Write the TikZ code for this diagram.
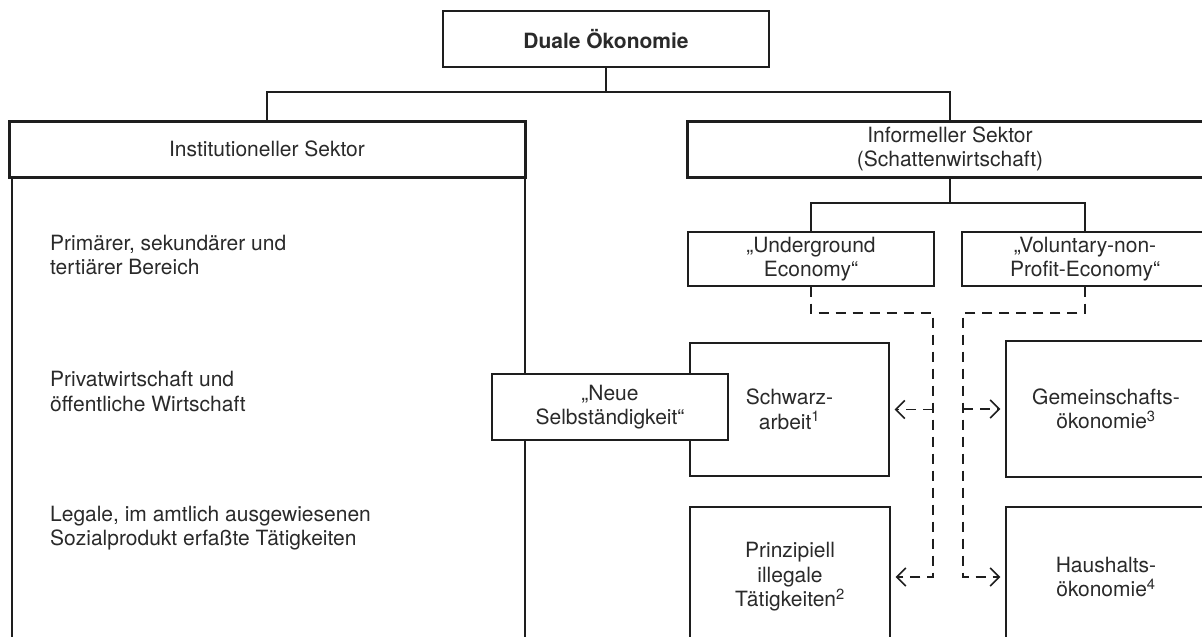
\documentclass[tikz,border=0pt]{standalone}
\usepackage{fontspec}
\setmainfont{TeX Gyre Heros}
\usetikzlibrary{arrows.meta}
\definecolor{ink}{HTML}{1E1E1E}
\definecolor{txtc}{HTML}{2A2A2A}
\begin{document}
\begin{tikzpicture}[x=1pt,y=-1pt,
  font=\fontsize{21}{24.5}\selectfont,
  box/.style={draw=ink, line width=1.4pt, fill=white, inner sep=0pt, align=center, text=txtc},
  headbox/.style={box, line width=3pt},
  txt/.style={anchor=west, align=left, text=txtc, inner sep=0pt},
  link/.style={draw=ink, line width=1.4pt},
  dlink/.style={draw=ink, line width=1.4pt, dash pattern=on 10pt off 7pt},
  arr/.style={-{Straight Barb[length=9pt,width=18pt,line width=1.6pt]}, shorten >=5pt}
]
\useasboundingbox (0,0) rectangle (1202,637);
\clip (0,0) rectangle (1202,637);
\fill[white] (0,0) rectangle (1202,637);

% left column
\node[box, fill=none, minimum width=513pt, minimum height=490pt, anchor=north] (col) at (268.5,177) {};

% headers
\node[box, minimum width=326pt, minimum height=56pt, font=\fontsize{21}{24.5}\selectfont\bfseries] (top) at (606,39) {Duale Ökonomie};
\node[headbox, minimum width=516pt, minimum height=56pt] (inst) at (267,149) {Institutioneller Sektor};
\node[headbox, minimum width=526pt, minimum height=56pt] (inf) at (950,149) {Informeller Sektor\\(Schattenwirtschaft)};

% left texts
\node[txt] (t1) at (50,255) {Primärer, sekundärer und\\tertiärer Bereich};
\node[txt] (t2) at (50,391.5) {Privatwirtschaft und\\öffentliche Wirtschaft};
\node[txt] (t3) at (50,528) {Legale, im amtlich ausgewiesenen\\Sozialprodukt erfaßte Tätigkeiten};

% right side
\node[box, minimum width=246pt, minimum height=54pt] (ug) at (811,259) {„Underground\\Economy“};
\node[box, minimum width=246pt, minimum height=54pt] (vol) at (1085,259) {„Voluntary-non-\\Profit-Economy“};
\node[box, minimum width=199pt, minimum height=133pt] (sw) at (789.5,409.5) {Schwarz-\\arbeit\textsuperscript{1}};
\node[box, minimum width=200pt, minimum height=136pt] (gem) at (1106,409) {Gemeinschafts-\\ökonomie\textsuperscript{3}};
\node[box, minimum width=200pt, minimum height=140pt] (pr) at (790,577) {Prinzipiell\\illegale\\Tätigkeiten\textsuperscript{2}};
\node[box, minimum width=200pt, minimum height=140pt] (hh) at (1106,577) {Haushalts-\\ökonomie\textsuperscript{4}};
\node[box, minimum width=236pt, minimum height=66pt] (neue) at (610,407) {„Neue\\Selbständigkeit“};

% solid connectors
\coordinate (j1) at (606,92);
\draw[link] (top.south) -- (j1);
\draw[link] (inst.north) |- (j1);
\draw[link] (inf.north) |- (j1);
\coordinate (j2) at (950,203);
\draw[link] (inf.south) -- (j2);
\draw[link] (ug.north) |- (j2);
\draw[link] (vol.north) |- (j2);

% dashed connectors
\coordinate (ua) at (933,313);
\coordinate (ub) at (933,577);
\coordinate (va) at (963,313);
\coordinate (vb) at (963,577);
\draw[dlink, arr] (ug.south) |- (ua) -- (ub) -- (pr.east);
\draw[dlink, arr] (ua |- sw.east) -- (sw.east);
\draw[dlink, arr] (vol.south) |- (va) -- (vb) -- (hh.west);
\draw[dlink, arr] (va |- gem.west) -- (gem.west);
\end{tikzpicture}
\end{document}
